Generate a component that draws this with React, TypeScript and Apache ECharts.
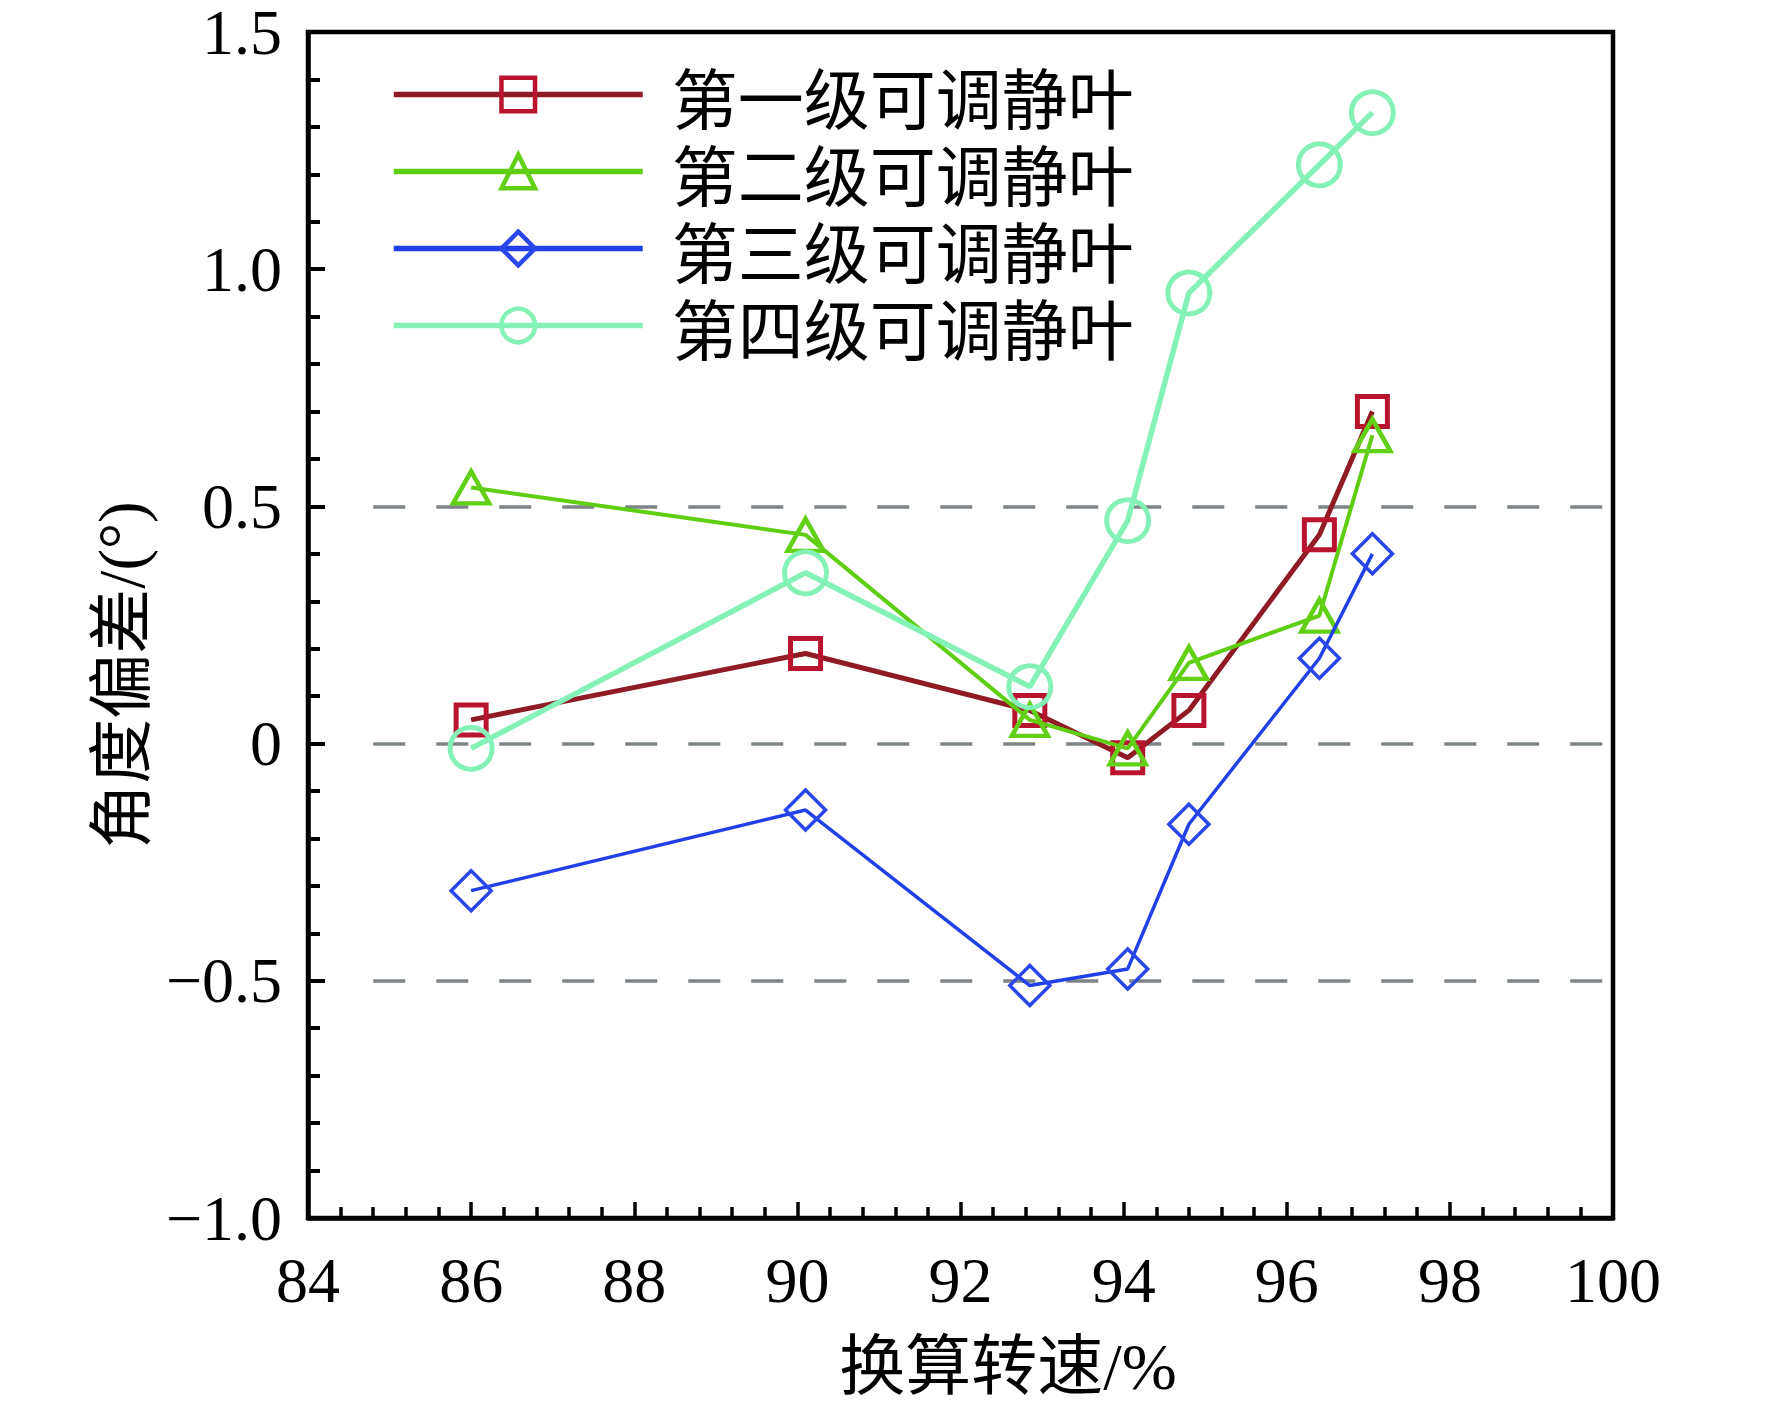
import React, { useEffect, useRef } from "react";
import * as echarts from "echarts";

// 换算转速 (%)
const speeds = [86, 90.1, 92.85, 94.05, 94.8, 96.4, 97.05];
// 角度偏差 (°)
const stage1 = [0.05, 0.19, 0.07, -0.03, 0.07, 0.44, 0.7];
const stage2 = [0.54, 0.44, 0.05, -0.01, 0.17, 0.27, 0.65];
const stage3 = [-0.31, -0.14, -0.51, -0.475, -0.17, 0.18, 0.4];
const stage4 = [-0.01, 0.36, 0.12, 0.47, 0.95, 1.22, 1.33];
const seriesNames = ["第一级可调静叶", "第二级可调静叶", "第三级可调静叶", "第四级可调静叶"];
const seriesValues = [stage1, stage2, stage3, stage4];
const refLevels = [0.5, 0, -0.5];
const refStart = 84.8;
const xMin = 84;
const xMax = 100;
const yMin = -1;
const yMax = 1.5;
const xAxisName = "换算转速/%";
const yAxisName = "角度偏差/(°)";

const looks = [
  { symbol: "rect", size: 30, line: "#8f1b25", mark: "#b8142e", width: 5, border: 5 },
  { symbol: "triangle", size: [36, 32], line: "#5fcd12", mark: "#62d016", width: 4, border: 4.5 },
  { symbol: "diamond", size: [40, 40], line: "#2140e8", mark: "#2a45ea", width: 3.5, border: 3.5 },
  { symbol: "circle", size: 42, line: "#84f2b6", mark: "#84f2b6", width: 5.5, border: 5 },
];

const serif = "'Liberation Serif', 'Times New Roman', serif";
const mixed = "'Liberation Serif', 'Noto Sans CJK SC', serif";

export default function App() {
  const ref = useRef<HTMLDivElement>(null);
  useEffect(() => {
    document.body.style.margin = "0";
    if (!ref.current) return;
    const chart = echarts.init(ref.current, undefined, { renderer: "svg" });

    const series: any[] = seriesNames.map((name, i) => ({
      name,
      type: "line",
      data: speeds.map((x, j) => [x, seriesValues[i][j]]),
      symbol: looks[i].symbol,
      symbolSize: looks[i].size,
      showAllSymbol: true,
      lineStyle: { color: looks[i].line, width: looks[i].width },
      itemStyle: {
        color: "rgba(255,255,255,0)",
        borderColor: looks[i].mark,
        borderWidth: looks[i].border,
      },
      emphasis: { disabled: true },
      z: 3 + i,
    }));

    series[0].markLine = {
      silent: true,
      symbol: "none",
      label: { show: false },
      lineStyle: { color: "#7d8487", width: 3.5, type: [32, 31] },
      data: refLevels.map((v) => [{ coord: [refStart, v] }, { coord: [xMax, v] }]),
      z: 1,
    };

    const option: any = {
      animation: false,
      backgroundColor: "#ffffff",
      grid: {
        left: 308,
        right: 159,
        top: 32,
        bottom: 192,
        show: true,
        borderColor: "#000",
        borderWidth: 4.5,
        backgroundColor: "transparent",
      },
      xAxis: {
        type: "value",
        min: xMin,
        max: xMax,
        interval: 2,
        splitLine: { show: false },
        axisLine: { show: true, onZero: false, lineStyle: { color: "#000", width: 4.5 } },
        axisTick: { show: true, inside: true, length: 16, lineStyle: { color: "#000", width: 3.5 } },
        minorTick: { show: true, splitNumber: 5, length: 11, lineStyle: { color: "#000", width: 3.5 } },
        axisLabel: { color: "#000", fontSize: 64, fontFamily: serif, margin: 30 },
      },
      yAxis: {
        type: "value",
        min: yMin,
        max: yMax,
        interval: 0.5,
        splitLine: { show: false },
        axisLine: { show: true, onZero: false, lineStyle: { color: "#000", width: 4.5 } },
        axisTick: { show: true, inside: true, length: 17, lineStyle: { color: "#000", width: 4 } },
        minorTick: { show: true, splitNumber: 5, length: 12, lineStyle: { color: "#000", width: 4 } },
        axisLabel: {
          color: "#000",
          fontSize: 64,
          fontFamily: serif,
          margin: 26,
          formatter: (v: number) =>
            v === 0 ? "0" : (v < 0 ? "\u2212" : "") + Math.abs(v).toFixed(1),
        },
      },
      legend: {
        show: true,
        orient: "vertical",
        left: 391,
        top: 56,
        padding: 0,
        itemGap: 0,
        itemWidth: 249,
        itemHeight: 42,
        selectedMode: false,
        data: seriesNames,
        lineStyle: { width: 5.5 },
        itemStyle: { borderWidth: 4.5 },
        textStyle: {
          color: "#000",
          fontSize: 66,
          fontFamily: "'Noto Sans CJK SC', sans-serif",
          lineHeight: 77,
          padding: [0, 0, 0, 24],
        },
      },
      graphic: [
        {
          type: "text",
          x: 1008,
          y: 1366,
          style: {
            text: xAxisName,
            fill: "#000",
            fontSize: 66,
            fontFamily: mixed,
            align: "center",
            verticalAlign: "middle",
          },
        },
        {
          type: "text",
          x: 122,
          y: 675,
          rotation: Math.PI / 2,
          style: {
            text: yAxisName,
            fill: "#000",
            fontSize: 65,
            fontFamily: mixed,
            align: "center",
            verticalAlign: "middle",
          },
        },
      ],
      series,
    };

    chart.setOption(option);
    return () => chart.dispose();
  }, []);

  return <div ref={ref} style={{ width: 1772, height: 1410 }} />;
}
